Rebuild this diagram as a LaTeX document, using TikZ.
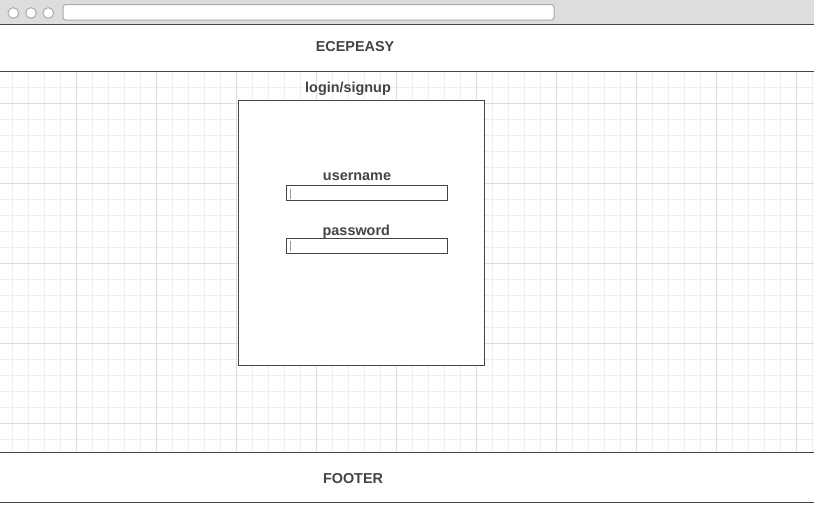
\documentclass[tikz,border=0pt]{standalone}
\usepackage{fontspec}
\setmainfont{Liberation Sans}
\definecolor{chrome}{HTML}{DDDDDD}
\definecolor{chromeline}{HTML}{AAAAAA}
\definecolor{frameline}{HTML}{444444}
\definecolor{txt}{HTML}{444444}
\definecolor{gridminor}{HTML}{EEEEEE}
\definecolor{gridmajor}{HTML}{DDDDDD}
\definecolor{cursor}{HTML}{999999}
\tikzset{
  lbl/.style={font=\fontsize{10.8pt}{12pt}\selectfont\bfseries, text=txt, inner sep=0pt},
  frame/.style={draw=frameline, line width=0.75pt},
  field/.style={draw=frameline, line width=0.75pt, fill=white},
  dot/.style={circle, draw=chromeline, fill=white, line width=0.75pt, minimum size=8pt, inner sep=0pt},
}
\begin{document}
\begin{tikzpicture}[x=0.75pt,y=-0.75pt]
\useasboundingbox (0,0) rectangle (814,504);
\fill[white] (0,0) rectangle (814,504);
% grid
\begin{scope}
\clip (0,71.5) rectangle (814,452);
\foreach \gx in {12.7,28.7,...,814} \draw[gridminor, line width=0.75pt] (\gx,71.5) -- (\gx,452);
\foreach \gy in {87.3,103.3,...,452} \draw[gridminor, line width=0.75pt] (0,\gy) -- (814,\gy);
\foreach \gx in {76.7,156.7,...,814} \draw[gridmajor, line width=0.75pt] (\gx,71.5) -- (\gx,452);
\foreach \gy in {103.3,183.3,...,452} \draw[gridmajor, line width=0.75pt] (0,\gy) -- (814,\gy);
\end{scope}
% browser chrome
\fill[chrome] (0,0) rectangle (814,24);
\node[dot] (d1) at (13.3,13) {};
\node[dot] (d2) at (31,13) {};
\node[dot] (d3) at (48.3,13) {};
\draw[draw=chromeline, fill=white, line width=0.75pt, rounded corners=2pt] (63,4.5) rectangle (554,20);
% header / footer lines
\draw[frame] (0,24.3) -- (814,24.3);
\draw[frame] (0,71.5) -- (814,71.5);
\draw[frame] (0,452.3) -- (814,452.3);
\draw[frame] (0,502.3) -- (814,502.3);
\node[lbl] (title) at (355,46.5) {ECEPEASY};
\node[lbl] (footer) at (353,479) {FOOTER};
% login box
\draw[frame, fill=white] (238.3,100.7) rectangle (484.3,365.3);
\node[lbl] (login) at (348,88.5) {login/signup};
\node[lbl] (user) at (357,176.5) {username};
\draw[field] (286.7,185.7) rectangle (447.3,200.3);
\draw[cursor, line width=1pt] (290.3,188.7) -- (290.3,198.7);
\node[lbl] (pass) at (356.3,231.5) {password};
\draw[field] (286.7,238.3) rectangle (447.3,253);
\draw[cursor, line width=1pt] (290.3,241.3) -- (290.3,251.3);
\end{tikzpicture}
\end{document}
